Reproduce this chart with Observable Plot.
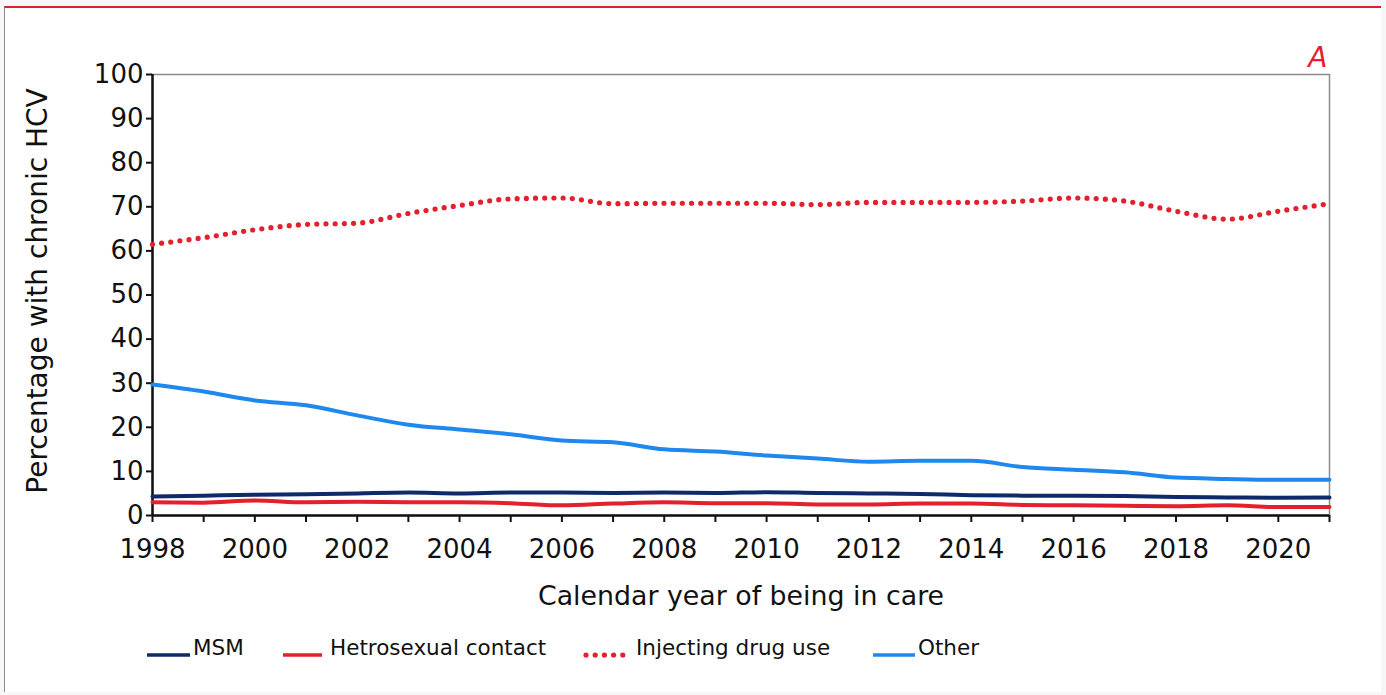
<!DOCTYPE html>
<html>
<head>
<meta charset="utf-8">
<script src="https://cdn.jsdelivr.net/npm/d3@7"></script>
<script src="https://cdn.jsdelivr.net/npm/@observablehq/plot@0.6"></script>
<style>
  html, body { margin: 0; padding: 0; background: #f7f7f7; font-family: "DejaVu Sans", Verdana, sans-serif; }
  #wrap { position: relative; width: 1386px; height: 695px; overflow: hidden; }
  #frame { position: absolute; left: 4px; top: 6px; width: 1376px; height: 684px; background: #fff;
           border-top: 2px solid #d9232e; border-left: 1px solid #8a8a8a; }
  #chart { position: absolute; left: 0; top: 0; }
  #legend { position: absolute; top: 633px; left: 0; width: 1386px; height: 30px; font-size: 21.5px; color: #111; }
  .sw { position: absolute; top: 0; }
  .lt { position: absolute; top: 2px; line-height: 26px; white-space: nowrap; }
</style>
</head>
<body>
<div id="wrap">
  <div id="frame"></div>
  <div id="chart"></div>
  <div id="legend"></div>
</div>
<script>
const years = d3.range(1998, 2022);
const msm   = [4.3, 4.5, 4.7, 4.8, 5.0, 5.2, 5.0, 5.2, 5.2, 5.1, 5.2, 5.1, 5.3, 5.1, 5.0, 4.9, 4.6, 4.5, 4.5, 4.4, 4.2, 4.1, 4.0, 4.1];
const hetero = [3.0, 2.9, 3.4, 3.0, 3.1, 3.0, 3.0, 2.8, 2.3, 2.7, 3.0, 2.8, 2.8, 2.5, 2.5, 2.7, 2.7, 2.4, 2.3, 2.2, 2.1, 2.3, 1.9, 1.9];
const idu   = [61.5, 63.0, 64.8, 66.0, 66.3, 68.5, 70.3, 71.8, 72.0, 70.7, 70.8, 70.8, 70.8, 70.5, 71.0, 71.0, 71.0, 71.3, 72.0, 71.3, 69.0, 67.2, 69.0, 70.7];
const other = [29.7, 28.1, 26.1, 25.0, 22.7, 20.6, 19.5, 18.4, 17.0, 16.6, 15.0, 14.5, 13.6, 12.9, 12.2, 12.4, 12.4, 11.0, 10.4, 9.8, 8.6, 8.3, 8.1, 8.1];
const seriesNames = ["MSM", "Hetrosexual contact", "Injecting drug use", "Other"];
const seriesColors = ["#0f2a68", "#e3202c", "#e3202c", "#1e88ee"];
const yTicks = d3.range(0, 101, 10);
const xLabel = "Calendar year of being in care";
const yLabel = "Percentage with chronic HCV";
const panelLabel = "A";

const rows = (vals, name) => years.map((y, i) => ({year: y, value: vals[i], series: name}));
const dMSM = rows(msm, seriesNames[0]);
const dHet = rows(hetero, seriesNames[1]);
const dIDU = rows(idu, seriesNames[2]);
const dOth = rows(other, seriesNames[3]);

const font = "DejaVu Sans, Verdana, sans-serif";

const chart = Plot.plot({
  width: 1386,
  height: 625,
  marginLeft: 152,
  marginRight: 57,
  marginTop: 74,
  marginBottom: 110,
  style: {fontFamily: font, background: "transparent", color: "#111", overflow: "visible"},
  x: {domain: [1998, 2021]},
  y: {domain: [0, 100]},
  marks: [
    Plot.frame({stroke: "#8a8a8a", strokeWidth: 1.5}),
    Plot.axisY({ticks: yTicks, tickSize: 6, tickPadding: 3, fontSize: 26, label: null, tickFormat: d => d, strokeWidth: 2}),
    Plot.axisX({ticks: years, tickSize: 7, tickPadding: 17, fontSize: 26, label: null,
                tickFormat: d => d % 2 === 0 ? String(d) : "", strokeWidth: 2}),
    Plot.ruleY([0], {stroke: "#111", strokeWidth: 2.5}),
    Plot.ruleX([1998], {stroke: "#111", strokeWidth: 2.5}),
    Plot.line(dOth, {x: "year", y: "value", stroke: seriesColors[3], strokeWidth: 4, curve: "monotone-x"}),
    Plot.line(dHet, {x: "year", y: "value", stroke: seriesColors[1], strokeWidth: 4, curve: "monotone-x"}),
    Plot.line(dMSM, {x: "year", y: "value", stroke: seriesColors[0], strokeWidth: 4, curve: "monotone-x"}),
    Plot.line(dIDU, {x: "year", y: "value", stroke: seriesColors[2], strokeWidth: 5.2, curve: "monotone-x",
                     strokeDasharray: "0 9.2", strokeLinecap: "round"}),
    Plot.text([xLabel], {frameAnchor: "bottom", dy: 89, fontSize: 26.8, fill: "#111"}),
    Plot.text([yLabel], {frameAnchor: "left", dx: -114, dy: -4, rotate: -90, textAnchor: "middle", fontSize: 28, fill: "#111"}),
    Plot.text([panelLabel], {frameAnchor: "top-right", dy: -27, dx: -2, textAnchor: "end", fontSize: 28,
                             fontStyle: "italic", fill: "#e3202c"})
  ]
});
document.getElementById("chart").appendChild(chart);

// legend
const swatchLeft = [147, 283, 583, 873];
const swatchWidth = [43, 39, 44, 42];
const textLeft = [193, 330, 636, 918];
const legend = document.getElementById("legend");
seriesNames.forEach((name, i) => {
  const dotted = i === 2;
  const sw = document.createElement("div");
  sw.className = "sw";
  sw.style.left = swatchLeft[i] + "px";
  sw.innerHTML = `<svg width="${swatchWidth[i] + 4}" height="30"><line x1="${dotted ? 3 : 0}" x2="${swatchWidth[i]}" y1="22" y2="22" stroke="${seriesColors[i]}" stroke-width="${dotted ? 5.2 : 3.5}" ${dotted ? 'stroke-dasharray="0 9.2" stroke-linecap="round"' : ''}/></svg>`;
  legend.appendChild(sw);
  const t = document.createElement("div");
  t.className = "lt";
  t.style.left = textLeft[i] + "px";
  t.textContent = name;
  legend.appendChild(t);
});
</script>
</body>
</html>
